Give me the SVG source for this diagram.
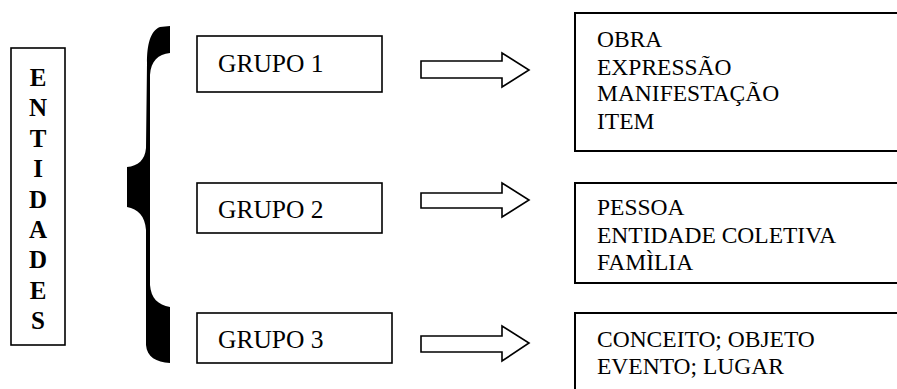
<svg xmlns="http://www.w3.org/2000/svg" width="897" height="389" viewBox="0 0 897 389">
  <style>
    .box { fill: #ffffff; stroke: #000000; stroke-width: 1.6; }
    .list { fill: #ffffff; stroke: #000000; stroke-width: 2; }
    .arrow { fill: #ffffff; stroke: #000000; stroke-width: 1.6; stroke-linejoin: miter; }
    .txt { font-family: "Liberation Serif", "Times New Roman", serif; font-size: 23.5px; fill: #000000; }
    .grp { font-family: "Liberation Serif", "Times New Roman", serif; font-size: 25.5px; fill: #000000; }
    .vert { font-family: "Liberation Serif", "Times New Roman", serif; font-size: 25px; font-weight: bold; fill: #000000; text-anchor: middle; }
  </style>

  <!-- vertical title -->
  <g id="entidades">
    <rect class="box" x="11" y="48" width="54" height="297"/>
    <text class="vert" x="38" y="86">E</text>
    <text class="vert" x="38" y="116">N</text>
    <text class="vert" x="38" y="147">T</text>
    <text class="vert" x="38" y="177">I</text>
    <text class="vert" x="38" y="208">D</text>
    <text class="vert" x="38" y="238">A</text>
    <text class="vert" x="38" y="268">D</text>
    <text class="vert" x="38" y="299">E</text>
    <text class="vert" x="38" y="329">S</text>
  </g>

  <!-- curly brace -->
  <g id="chave">
    <path fill="#000000" d="M170,26 L160,27 C150,31 147,45 147,63 L146,148 C145,160 138,166 127,167 L127,207 C138,209 145,216 146,230 L146,345 C147,357 156,362 170,363 L170,307 C158,305 151,298 150,285 L150,75 C151,61 158,54 170,53 Z"/>
  </g>

  <!-- group boxes -->
  <g id="grupo1">
    <rect class="box" x="197" y="36" width="185" height="56"/>
    <text class="grp" x="218" y="72">GRUPO 1</text>
  </g>
  <g id="grupo2">
    <rect class="box" x="197" y="183" width="185" height="50"/>
    <text class="grp" x="218" y="218">GRUPO 2</text>
  </g>
  <g id="grupo3">
    <rect class="box" x="197" y="313" width="195" height="50"/>
    <text class="grp" x="218" y="348">GRUPO 3</text>
  </g>

  <!-- block arrows -->
  <g id="conectores">
    <polygon class="arrow" points="421,61 502,61 502,53 529,70 502,87 502,78 421,78"/>
    <polygon class="arrow" points="421,193 502,193 502,183 529,200 502,217 502,208 421,208"/>
    <polygon class="arrow" points="421,336 502,336 502,326 529,343 502,361 502,352 421,352"/>
  </g>

  <!-- entity lists -->
  <g id="lista1">
    <rect class="list" x="575" y="13" width="340" height="138"/>
    <text class="txt" x="597" y="47">OBRA</text>
    <text class="txt" x="597" y="75">EXPRESSÃO</text>
    <text class="txt" x="597" y="101">MANIFESTAÇÃO</text>
    <text class="txt" x="597" y="129">ITEM</text>
  </g>
  <g id="lista2">
    <rect class="list" x="575" y="183" width="340" height="100"/>
    <text class="txt" x="597" y="215">PESSOA</text>
    <text class="txt" x="597" y="243">ENTIDADE COLETIVA</text>
    <text class="txt" x="597" y="270">FAMÌLIA</text>
  </g>
  <g id="lista3">
    <rect class="list" x="575" y="313" width="340" height="100"/>
    <text class="txt" x="597" y="347">CONCEITO; OBJETO</text>
    <text class="txt" x="597" y="374">EVENTO; LUGAR</text>
  </g>
</svg>
